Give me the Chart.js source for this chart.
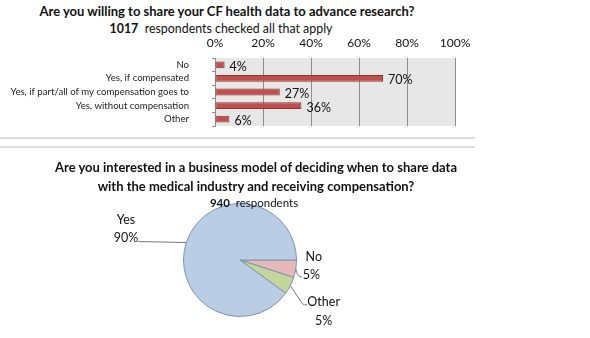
<!DOCTYPE html>
<html>
<head>
<meta charset="utf-8">
<title>CF data sharing survey</title>
<script src="https://cdn.jsdelivr.net/npm/chart.js@4.4.1/dist/chart.umd.min.js"></script>
<style>
  body {margin: 0; background: #fff; font-family: Lato, "Liberation Sans", sans-serif; color: #111;}
  #page {position: relative; width: 590px; height: 338px; overflow: hidden;}
  .txt {position: absolute; white-space: nowrap; text-align: center; z-index: 2;}
  .b {font-weight: bold;}
  .sep {position: absolute; left: 0; width: 475px; height: 2px; background: #dcdcdc;}
  canvas {position: absolute; display: block;}
  #barChart {left: 0; top: 36px;}
  #pieChart {left: 60px; top: 195px;}
</style>
</head>
<body>
<div id="page">
  <div class="txt b" style="left:0;width:454px;top:3px;font-size:13px;">Are you willing to share your CF health data to advance research?</div>
  <div class="txt" style="left:0;width:442px;top:21px;font-size:12.4px;"><span class="b">1017</span>&nbsp; respondents checked all that apply</div>
  <canvas id="barChart" width="480" height="92"></canvas>
  <div class="sep" style="top:137px;"></div>
  <div class="sep" style="top:146px;"></div>
  <div class="txt b" style="left:0;width:512px;top:158px;font-size:13px;line-height:19px;">Are you interested in a business model of deciding when to share data<br>with the medical industry and receiving compensation?</div>
  <div class="txt" style="left:0;width:508px;top:196px;font-size:11.5px;"><span class="b">940</span>&nbsp; respondents</div>
  <canvas id="pieChart" width="330" height="143"></canvas>
</div>
<script>
// top chart: share health data (check all that apply)
const barLabels = ['No', 'Yes, if compensated', 'Yes, if part/all of my compensation goes to', 'Yes, without compensation', 'Other'];
const barValues = [4, 70, 27, 36, 6];
const pctMax = 100;
const pctStep = 20;

// bottom chart: business model interest
const pieLabels = ['No', 'Other', 'Yes'];
const pieValues = [5, 5, 90];
const pieColors = ['#e6b9b8', '#c3d69b', '#b9cde5'];

const FONT = 'Lato, "Liberation Sans", sans-serif';

const plotBg = {
  id: 'plotBg',
  beforeDraw(chart) {
    const a = chart.chartArea, c = chart.ctx;
    c.save();
    c.fillStyle = '#e7e7e7';
    c.fillRect(a.left, a.top, a.right - a.left, a.bottom - a.top);
    c.restore();
  }
};

const barValueLabels = {
  id: 'barValueLabels',
  afterDatasetsDraw(chart) {
    const c = chart.ctx;
    const meta = chart.getDatasetMeta(0);
    c.save();
    c.font = '12.5px ' + FONT;
    c.fillStyle = '#111';
    c.textBaseline = 'middle';
    meta.data.forEach((bar, i) => {
      c.fillText(barValues[i] + '%', bar.x + 5, bar.y + 2);
    });
    c.restore();
  }
};

new Chart(document.getElementById('barChart'), {
  type: 'bar',
  data: {
    labels: barLabels,
    datasets: [{
      data: barValues,
      backgroundColor: '#c0504d',
      borderColor: '#8e3532',
      borderWidth: 1,
      borderSkipped: false,
      barPercentage: 0.5,
      categoryPercentage: 1
    }]
  },
  options: {
    indexAxis: 'y',
    responsive: false,
    animation: false,
    events: [],
    layout: {padding: {left: 0, right: 25, top: 0, bottom: 2}},
    plugins: {legend: {display: false}, tooltip: {enabled: false}},
    scales: {
      x: {
        position: 'top',
        min: 0,
        max: pctMax,
        ticks: {
          stepSize: pctStep,
          padding: 8,
          color: '#111',
          font: {family: FONT, size: 12},
          callback: v => v + '%'
        },
        grid: {color: '#8c8c8c', lineWidth: 1, drawTicks: false},
        border: {display: false},
        afterFit: s => { s.height = 22; }
      },
      y: {
        ticks: {
          autoSkip: false,
          padding: 23,
          color: '#222',
          font: {family: FONT, size: 9.6}
        },
        grid: {drawOnChartArea: false, drawTicks: true, tickLength: 3, color: '#8c8c8c', offset: true},
        border: {display: true, color: '#8c8c8c'},
        afterFit: s => { s.width = 215; s.paddingTop = 0; s.paddingBottom = 0; }
      }
    }
  },
  plugins: [plotBg, barValueLabels]
});

// labels with leader lines, anchored to the middle of each slice edge
const pieLeaders = {
  id: 'pieLeaders',
  afterDatasetsDraw(chart) {
    const c = chart.ctx;
    const meta = chart.getDatasetMeta(0);
    c.save();
    c.font = '12.5px ' + FONT;
    c.fillStyle = '#111';
    c.strokeStyle = '#777';
    c.lineWidth = 1;
    c.textBaseline = 'middle';
    meta.data.forEach((arc, i) => {
      const mid = (arc.startAngle + arc.endAngle) / 2;
      const ex = arc.x + Math.cos(mid) * arc.outerRadius;
      const ey = arc.y + Math.sin(mid) * arc.outerRadius;
      const pct = pieValues[i] + '%';
      const name = pieLabels[i];
      c.beginPath();
      c.moveTo(ex, ey);
      if (Math.cos(mid) < 0) {
        // left side: flat line out to the label
        const lx = ex - 48, ly = ey - 1;
        c.lineTo(lx, ly);
        c.stroke();
        c.textAlign = 'right';
        c.fillText(pct, lx, ly - 4);
        const w = c.measureText(pct).width;
        c.textAlign = 'center';
        c.fillText(name, lx - w / 2, ly - 22);
      } else if (i === 0) {
        const lx = ex + 6, ly = ey + 8;
        c.quadraticCurveTo(ex + 1, ly, lx, ly);
        c.stroke();
        c.textAlign = 'left';
        c.fillText(pct, lx + 1, ly - 2);
        c.textAlign = 'center';
        c.fillText(name, lx + 12, ly - 20);
      } else {
        const lx = ex + 14, ly = ey + 20;
        c.lineTo(lx - 2, ly - 2);
        c.quadraticCurveTo(lx, ly, lx + 3, ly - 1);
        c.stroke();
        c.textAlign = 'left';
        c.fillText(name, lx + 3, ly - 4);
        const w = c.measureText(name).width;
        c.textAlign = 'center';
        c.fillText(pct, lx + 3 + w / 2, ly + 15);
      }
    });
    c.restore();
  }
};

new Chart(document.getElementById('pieChart'), {
  type: 'pie',
  data: {
    labels: pieLabels,
    datasets: [{
      data: pieValues,
      backgroundColor: pieColors,
      borderColor: '#7f93ad',
      borderWidth: 1
    }]
  },
  options: {
    responsive: false,
    animation: false,
    events: [],
    rotation: 90,
    layout: {padding: {left: 123, right: 93, top: 8, bottom: 21}},
    plugins: {legend: {display: false}, tooltip: {enabled: false}}
  },
  plugins: [pieLeaders]
});
</script>
</body>
</html>
